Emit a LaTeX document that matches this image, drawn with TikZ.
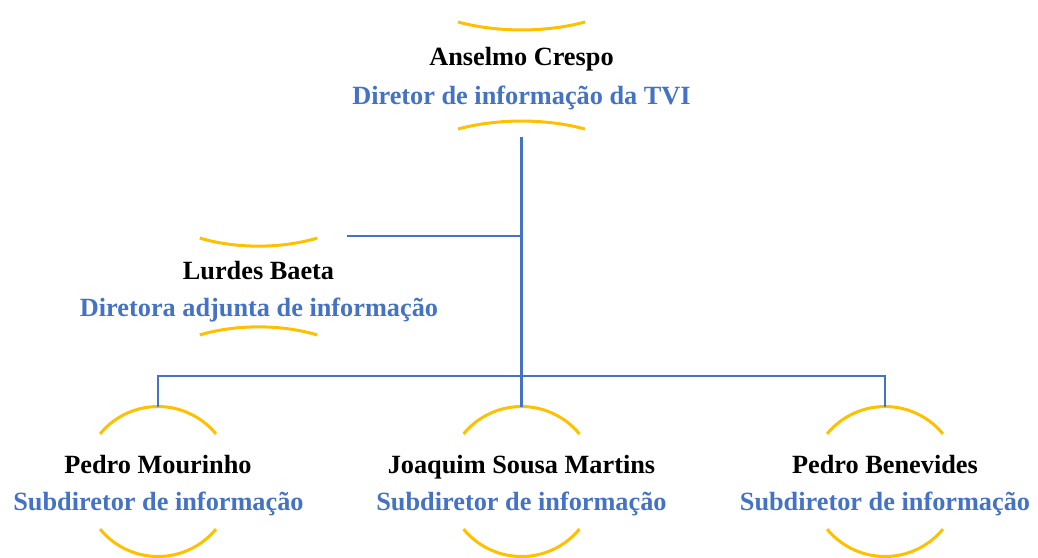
\documentclass[tikz,border=0pt]{standalone}
\usepackage{fontspec}
\setmainfont{Liberation Serif}
\usetikzlibrary{shapes.geometric}
\definecolor{roleblue}{RGB}{68,114,196}
\definecolor{linkblue}{RGB}{68,114,196}
\definecolor{arcgold}{RGB}{255,192,0}
\tikzset{
  namelbl/.style={anchor=base, inner sep=0pt, font=\fontsize{26.3}{32}\selectfont\bfseries, text=black},
  rolelbl/.style={anchor=base, inner sep=0pt, font=\fontsize{26.3}{32}\selectfont\bfseries, text=roleblue},
  rim/.style={draw=arcgold, line width=3pt},
  link/.style={draw=linkblue, line width=2.6pt},
  holder/.style={ellipse, draw=none, inner sep=0pt}
}
\begin{document}
\begin{tikzpicture}[x=1pt,y=-1pt]
\useasboundingbox (0,0) rectangle (1038,557);
% shape holders
\node[holder, minimum width=258pt, minimum height=123pt] (topE) at (521.5,75.5) {};
\node[holder, minimum width=228pt, minimum height=113pt] (lurE) at (258.5,286.5) {};
\node[holder, minimum width=150pt, minimum height=149pt] (pmE) at (158,481.5) {};
\node[holder, minimum width=150pt, minimum height=149pt] (jmE) at (521.5,481.5) {};
\node[holder, minimum width=150pt, minimum height=149pt] (pbE) at (885,481.5) {};
% arcs
\draw[rim] (521.5,75.5) ++(60.5:129 and 61.5) arc[start angle=-60.5, end angle=-119.5, x radius=129, y radius=61.5];
\draw[rim] (521.5,75.5) ++(-60.5:129 and 61.5) arc[start angle=60.5, end angle=119.5, x radius=129, y radius=61.5];
\draw[rim] (258.5,286.5) ++(59:114 and 56.5) arc[start angle=-59, end angle=-121, x radius=114, y radius=56.5];
\draw[rim] (258.5,286.5) ++(-59:114 and 56.5) arc[start angle=59, end angle=121, x radius=114, y radius=56.5];
\foreach \cx in {158,521.5,885}{
  \draw[rim] (\cx,481.5) ++(-39.4:75) arc[start angle=-39.4, end angle=-140.6, radius=75];
  \draw[rim] (\cx,481.5) ++(39.4:75) arc[start angle=39.4, end angle=140.6, radius=75];
}
% texts
\node[namelbl] (n1) at (521.5,65.5) {Anselmo Crespo};
\node[rolelbl] (r1) at (521.5,104) {Diretor de informação da TVI};
\node[namelbl] (n2) at (258.5,279) {Lurdes Baeta};
\node[rolelbl] (r2) at (259,316) {Diretora adjunta de informação};
\node[namelbl] (n3) at (158,473) {Pedro Mourinho};
\node[rolelbl] (r3) at (158.5,510) {Subdiretor de informação};
\node[namelbl] (n4) at (521.5,473) {Joaquim Sousa Martins};
\node[rolelbl] (r4) at (521.5,510) {Subdiretor de informação};
\node[namelbl] (n5) at (885,473) {Pedro Benevides};
\node[rolelbl] (r5) at (885,510) {Subdiretor de informação};
% connectors
\coordinate (lurEnd) at (347,236);
\coordinate (busL) at (158,376);
\coordinate (busR) at (885,376);
\coordinate (lurJ) at (521.5,236);
\draw[link] (topE.south) -- (jmE.north);
\draw[link] (lurEnd) -- (lurJ);
\draw[link] (pmE.north) -- (busL) -- (busR) -- (pbE.north);
\end{tikzpicture}
\end{document}
